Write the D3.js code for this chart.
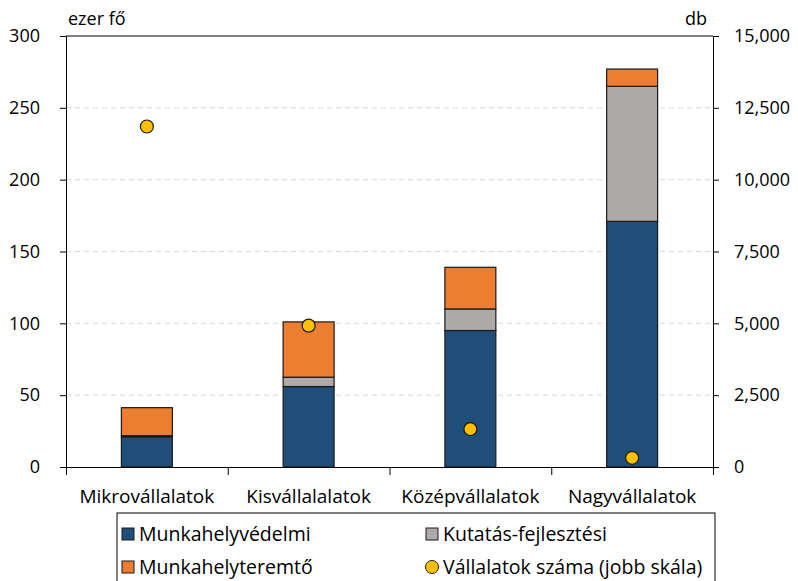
<!DOCTYPE html>
<html>
<head>
<meta charset="utf-8">
<script src="https://cdn.jsdelivr.net/npm/d3@7"></script>
<style>
  body { margin: 0; background: #fff; }
  svg text { font-family: "Open Sans", sans-serif; fill: #000; }
</style>
</head>
<body>
<div id="chart"></div>
<script>
// chart data
var categories = ['Mikrovállalatok', 'Kisvállalalatok', 'Középvállalatok', 'Nagyvállalatok'];
var munkahelyvedelmi = [21, 56, 95, 171];
var kutatas = [0.8, 6.5, 15, 94];
var munkahelyteremto = [19.5, 38.5, 29, 12];
var vallalatokSzama = [11850, 4920, 1320, 320];
var leftTicks = [0, 50, 100, 150, 200, 250, 300];
var rightTicks = [0, 2500, 5000, 7500, 10000, 12500, 15000];

var seriesKeys = ['Munkahelyvédelmi', 'Kutatás-fejlesztési', 'Munkahelyteremtő'];
var colors = {'Munkahelyvédelmi':'#1F4E79', 'Kutatás-fejlesztési':'#AEAAAA', 'Munkahelyteremtő':'#ED7D31'};

var W = 798, H = 581;
var m = {l:66, r:85, t:36, b:114};
var iw = W - m.l - m.r, ih = H - m.t - m.b;
var fs = '18px';

var svg = d3.select('#chart').append('svg').attr('width', W).attr('height', H);
var g = svg.append('g').attr('transform', 'translate(' + m.l + ',' + m.t + ')');

var x = d3.scaleBand().domain(categories).range([0, iw]).paddingInner(0.685).paddingOuter(0.3425);
var xTick = d3.scaleLinear().domain([0, categories.length]).range([0, iw]);
var y = d3.scaleLinear().domain([0, 300]).range([ih, 0]);
var y2 = d3.scaleLinear().domain([0, 15000]).range([ih, 0]);

// gridlines
g.selectAll('line.grid').data(leftTicks.filter(function(d){ return d > 0 && d < 300; })).join('line')
    .attr('class','grid').attr('x1',0).attr('x2',iw)
    .attr('y1',function(d){ return y(d); }).attr('y2',function(d){ return y(d); })
    .attr('stroke','#d9d9d9').attr('stroke-dasharray','5,4').attr('stroke-width',1);

// stacked bars
var rows = categories.map(function(c,i){
    return {cat:c, 'Munkahelyvédelmi':munkahelyvedelmi[i], 'Kutatás-fejlesztési':kutatas[i], 'Munkahelyteremtő':munkahelyteremto[i]};
});
var stack = d3.stack().keys(seriesKeys)(rows);
g.selectAll('g.layer').data(stack).join('g').attr('class','layer')
    .attr('fill',function(d){ return colors[d.key]; })
    .selectAll('rect').data(function(d){ return d; }).join('rect')
    .attr('x',function(d){ return x(d.data.cat); })
    .attr('width',x.bandwidth())
    .attr('y',function(d){ return y(d[1]); })
    .attr('height',function(d){ return y(d[0]) - y(d[1]); })
    .attr('stroke','#1a1a1a').attr('stroke-width',1.2);

// frame: top line
g.append('line').attr('x1',0).attr('x2',iw).attr('y1',0).attr('y2',0).attr('stroke','#000').attr('stroke-width',1);

// left axis
var yAxis = g.append('g').call(d3.axisLeft(y).tickValues(leftTicks).tickSize(6).tickPadding(20));
yAxis.select('.domain').attr('stroke','#000');
yAxis.selectAll('text').attr('font-size',fs);

// right axis
var y2Axis = g.append('g').attr('transform','translate(' + iw + ',0)')
    .call(d3.axisRight(y2).tickValues(rightTicks).tickSize(6).tickPadding(15).tickFormat(d3.format(',')));
y2Axis.selectAll('text').attr('font-size',fs);

// bottom axis
var xAxis = g.append('g').attr('transform','translate(0,' + ih + ')')
    .call(d3.axisBottom(xTick).tickValues(d3.range(categories.length + 1)).tickSize(8).tickFormat(''));
xAxis.select('.domain').attr('stroke','#000');
g.selectAll('text.cat').data(categories).join('text').attr('class','cat')
    .attr('x',function(d){ return x(d) + x.bandwidth()/2; }).attr('y',ih + 36)
    .attr('text-anchor','middle').attr('font-size','19px').text(function(d){ return d; });

// dots (right scale)
g.selectAll('circle.dot').data(vallalatokSzama).join('circle').attr('class','dot')
    .attr('cx',function(d,i){ return x(categories[i]) + x.bandwidth()/2; })
    .attr('cy',function(d){ return y2(d); })
    .attr('r',6.5).attr('fill','#FFC000').attr('stroke','#1a1a1a').attr('stroke-width',1.2);

// axis titles
svg.append('text').attr('x',68).attr('y',25).attr('font-size',fs).text('ezer fő');
svg.append('text').attr('x',707).attr('y',25).attr('text-anchor','end').attr('font-size',fs).text('db');

// legend
var leg = svg.append('g');
leg.append('rect').attr('x',117).attr('y',513).attr('width',598).attr('height',75)
    .attr('fill','none').attr('stroke','#000').attr('stroke-width',1);
var legItems = [
    {label:'Munkahelyvédelmi', color:colors['Munkahelyvédelmi'], type:'rect', x:122, y:534},
    {label:'Kutatás-fejlesztési', color:colors['Kutatás-fejlesztési'], type:'rect', x:426, y:534},
    {label:'Munkahelyteremtő', color:colors['Munkahelyteremtő'], type:'rect', x:122, y:567},
    {label:'Vállalatok száma (jobb skála)', color:'#FFC000', type:'circle', x:426, y:567}
];
legItems.forEach(function(it){
    if (it.type === 'rect') {
        leg.append('rect').attr('x',it.x).attr('y',it.y - 6).attr('width',12).attr('height',12)
            .attr('fill',it.color).attr('stroke','#1a1a1a').attr('stroke-width',1);
    } else {
        leg.append('circle').attr('cx',it.x + 6).attr('cy',it.y).attr('r',6.5)
            .attr('fill',it.color).attr('stroke','#1a1a1a').attr('stroke-width',1);
    }
    leg.append('text').attr('x',it.x + 17).attr('y',it.y + 7).attr('font-size','19.5px').text(it.label);
});
</script>
</body>
</html>
